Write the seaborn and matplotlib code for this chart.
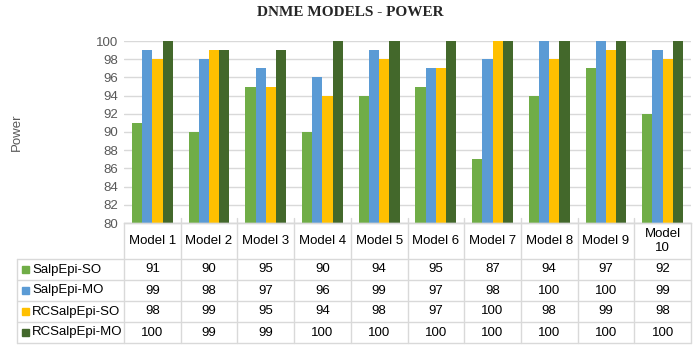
import matplotlib
matplotlib.use("Agg")
import matplotlib.pyplot as plt
import matplotlib.transforms as mtransforms
import seaborn as sns
import pandas as pd

models = ["Model 1", "Model 2", "Model 3", "Model 4", "Model 5",
          "Model 6", "Model 7", "Model 8", "Model 9", "Model 10"]
model_labels = ["Model 1", "Model 2", "Model 3", "Model 4", "Model 5",
                "Model 6", "Model 7", "Model 8", "Model 9", "Model\n10"]
series_names = ["SalpEpi-SO", "SalpEpi-MO", "RCSalpEpi-SO", "RCSalpEpi-MO"]
salp_so = [91, 90, 95, 90, 94, 95, 87, 94, 97, 92]
salp_mo = [99, 98, 97, 96, 99, 97, 98, 100, 100, 99]
rc_so = [98, 99, 95, 94, 98, 97, 100, 98, 99, 98]
rc_mo = [100, 99, 99, 100, 100, 100, 100, 100, 100, 100]
colors = ["#70AD47", "#5B9BD5", "#FFC000", "#43682B"]
yticks = list(range(80, 101, 2))

series_values = [salp_so, salp_mo, rc_so, rc_mo]
rows = []
for name, vals in zip(series_names, series_values):
    for m, v in zip(models, vals):
        rows.append({"Model": m, "Series": name, "Power": v})
df = pd.DataFrame(rows)

sns.set_theme(style="white")
plt.rcParams["font.family"] = ["Liberation Sans", "DejaVu Sans"]

W, H = 700, 348
fig = plt.figure(figsize=(W / 100, H / 100), dpi=100)
ax_l, ax_r, ax_t, ax_b = 124, 691, 41, 223
ax = fig.add_axes([ax_l / W, (H - ax_b) / H, (ax_r - ax_l) / W, (ax_b - ax_t) / H])

sns.barplot(data=df, x="Model", y="Power", hue="Series", hue_order=series_names,
            order=models, palette=colors, width=0.72, ax=ax, legend=False,
            saturation=1, edgecolor="none", linewidth=0)

ax.set_ylim(80, 100)
ax.set_xlim(-0.5, len(models) - 0.5)
ax.set_yticks(yticks)
ax.set_yticklabels([str(t) for t in yticks], color="#595959", fontsize=9.5)
ax.tick_params(axis="y", length=0, pad=4)
ax.set_xticks([])
ax.set_xlabel("")
ax.set_ylabel("")
ax.grid(axis="y", color="#D9D9D9", linewidth=1)
ax.set_axisbelow(True)
for s in ["top", "right", "left"]:
    ax.spines[s].set_visible(False)
ax.spines["bottom"].set_color("#D9D9D9")
ax.spines["bottom"].set_linewidth(1)

# Title and y label
fig.text(350 / W, 1 - 13 / H, "DNME MODELS - POWER", ha="center", va="center",
         fontsize=11, fontweight="bold", family=["Liberation Serif", "DejaVu Serif"])
fig.text(17 / W, 1 - 132 / H, "Power", ha="center", va="center", rotation=90,
         fontsize=9.5, color="#595959")

# Data table
line_c = "#D9D9D9"
pxh = ax_b - ax_t  # axes height in px
def ay(py):
    return (ax_b - py) / pxh

blend = mtransforms.blended_transform_factory(ax.transData, ax.transAxes)
row_edges = [223, 259, 280, 301, 322, 343]
x_left_px = 17
x_leg = (x_left_px - ax_l) / (ax_r - ax_l)

# horizontal lines
for i, py in enumerate(row_edges):
    x0 = 0 if i == 0 else x_leg
    ax.plot([x0, 1], [ay(py), ay(py)], transform=ax.transAxes, color=line_c,
            lw=1, clip_on=False)
# vertical lines at category boundaries
for k in range(len(models) + 1):
    xb = k - 0.5
    ax.plot([xb, xb], [ay(218 if 0 < k < len(models) else 223), ay(343)],
            transform=blend, color=line_c, lw=1, clip_on=False)
# left border of legend column
ax.plot([x_leg, x_leg], [ay(259), ay(343)], transform=ax.transAxes, color=line_c,
        lw=1, clip_on=False)

# header labels
for i, lab in enumerate(model_labels):
    ax.text(i, ay((223 + 259) / 2), lab, transform=blend, ha="center", va="center",
            fontsize=9.5, color="#000000", linespacing=1.25)

# body
for r, (name, vals, c) in enumerate(zip(series_names, series_values, colors)):
    yc = ay((row_edges[r + 1] + row_edges[r + 2]) / 2)
    for i, v in enumerate(vals):
        ax.text(i, yc, str(v), transform=blend, ha="center", va="center",
                fontsize=9.5, color="#000000")
    # legend key
    kx = (22 - ax_l) / (ax_r - ax_l)
    ax.add_patch(plt.Rectangle((kx, yc - 3.5 / pxh), 7 / (ax_r - ax_l), 7 / pxh,
                               transform=ax.transAxes, color=c, clip_on=False))
    ax.text((32 - ax_l) / (ax_r - ax_l), yc, name, transform=ax.transAxes,
            ha="left", va="center", fontsize=9.5, color="#000000")

fig.savefig("out.png", dpi=100)
